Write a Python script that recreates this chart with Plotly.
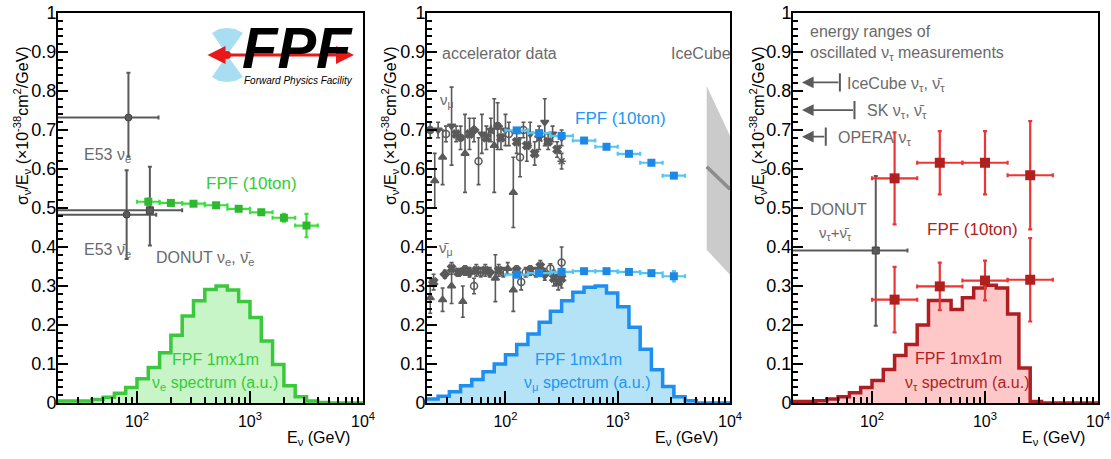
import math
import plotly.graph_objects as go

W, H = 1111, 459
FONT = "Liberation Sans, Arial, sans-serif"

# ---------------- data ----------------
# histogram bins: lower edges (log10 GeV), last entry is the upper edge of the last bin
bin_edges_log = [1.3, 1.4, 1.5, 1.6, 1.7, 1.8, 1.9, 2.0, 2.1, 2.2, 2.3, 2.4, 2.5, 2.6,
                 2.7, 2.8, 2.9, 3.0, 3.1, 3.2, 3.3, 3.4, 3.5, 3.6, 3.7, 3.8, 3.9, 4.0]
nue_spectrum = [0.005, 0.005, 0.005, 0.009, 0.015, 0.025, 0.040, 0.062, 0.091, 0.129, 0.174,
                0.223, 0.262, 0.291, 0.300, 0.290, 0.260, 0.219, 0.159, 0.099, 0.044, 0.016,
                0.005, 0.001, 0.0, 0.0, 0.0]
numu_spectrum = [0.010, 0.017, 0.029, 0.044, 0.060, 0.080, 0.100, 0.124, 0.150, 0.177, 0.207,
                 0.235, 0.262, 0.284, 0.297, 0.300, 0.282, 0.247, 0.194, 0.138, 0.085, 0.042,
                 0.016, 0.006, 0.0, 0.0, 0.0]
nutau_spectrum = [0.004, 0.004, 0.006, 0.010, 0.016, 0.026, 0.040, 0.058, 0.086, 0.122, 0.150,
                  0.200, 0.263, 0.263, 0.240, 0.270, 0.295, 0.302, 0.295, 0.228, 0.090, 0.004,
                  0.0, 0.0, 0.0, 0.0, 0.0]

# FPF (10ton) projections, 0.2-decade bins
fpf_bin_lo = [2.0, 2.2, 2.4, 2.6, 2.8, 3.0, 3.2, 3.4]
fpf_bin_hi = [2.2, 2.4, 2.6, 2.8, 3.0, 3.2, 3.4, 3.6]
fpf_center = [2.1, 2.3, 2.5, 2.7, 2.9, 3.1, 3.3, 3.5]
fpf_nue = [0.516, 0.513, 0.511, 0.507, 0.498, 0.489, 0.475, 0.455]
fpf_nue_err = [0.008, 0.005, 0.005, 0.005, 0.005, 0.006, 0.010, 0.030]
fpf_numu = [0.699, 0.692, 0.685, 0.673, 0.657, 0.639, 0.616, 0.583]
fpf_numu_err = [0.006, 0.005, 0.005, 0.005, 0.005, 0.005, 0.005, 0.006]
fpf_numubar = [0.329, 0.333, 0.336, 0.338, 0.338, 0.336, 0.333, 0.325]
fpf_numubar_err = [0.005, 0.004, 0.004, 0.004, 0.004, 0.004, 0.005, 0.013]

# FPF nu_tau, 0.4-decade bins
tau_bin_lo = [2.0, 2.4, 2.8, 3.2]
tau_bin_hi = [2.4, 2.8, 3.2, 3.6]
tau_center = [2.2, 2.6, 3.0, 3.4]
fpf_nutau = [0.576, 0.616, 0.616, 0.584]
fpf_nutau_err = [0.118, 0.081, 0.081, 0.139]
fpf_nutaubar = [0.265, 0.299, 0.314, 0.316]
fpf_nutaubar_err = [0.084, 0.061, 0.051, 0.107]

# existing nu_e measurements (E53, DONUT)
nue_meas_E = [84, 81, 130]
nue_meas_lo = [10, 10, 10]
nue_meas_hi = [155, 148, 251]
nue_meas_val = [0.732, 0.483, 0.494]
nue_meas_up = [0.115, 0.114, 0.112]
nue_meas_dn = [0.100, 0.114, 0.090]
nue_meas_sym = ["circle", "circle", "square"]

# DONUT nu_tau
donut_tau_E = [108]
donut_tau_lo = [10]
donut_tau_hi = [206]
donut_tau_val = [0.391]
donut_tau_up = [0.191]
donut_tau_dn = [0.193]

# oscillated nu_tau energy ranges
osc_names = ["IceCube", "SK", "OPERA"]
osc_Emax = [52, 70, 39]
osc_Etip = [24, 24, 24]
osc_y = [0.822, 0.751, 0.683]

# IceCube numu band
icecube_E = [6200, 10000]
icecube_hi = [0.813, 0.685]
icecube_lo = [0.393, 0.329]
icecube_mid = [0.606, 0.548]

# accelerator data (log10 E, value, error, marker)
acc_numu = [
    (1.33, 0.700, 0.020, "circle"), (1.37, 0.570, 0.070, "triangle-up"),
    (1.40, 0.700, 0.020, "triangle-down"), (1.44, 0.630, 0.070, "triangle-up"),
    (1.47, 0.690, 0.020, "circle-open"), (1.52, 0.710, 0.100, "triangle-down"),
    (1.56, 0.690, 0.020, "x"), (1.60, 0.680, 0.030, "circle"),
    (1.64, 0.640, 0.100, "triangle-up"), (1.68, 0.690, 0.040, "x"),
    (1.72, 0.700, 0.030, "diamond"), (1.76, 0.620, 0.060, "circle-open"),
    (1.79, 0.690, 0.050, "triangle-down"), (1.83, 0.680, 0.030, "x"),
    (1.87, 0.700, 0.030, "star"), (1.90, 0.660, 0.120, "triangle-up"),
    (1.93, 0.710, 0.060, "circle"), (1.96, 0.680, 0.030, "x"),
    (2.00, 0.700, 0.040, "triangle-down"), (2.03, 0.690, 0.030, "circle-open"),
    (2.07, 0.540, 0.090, "triangle-up"), (2.10, 0.670, 0.030, "x"),
    (2.13, 0.630, 0.050, "circle-open"), (2.16, 0.700, 0.020, "circle-open"),
    (2.19, 0.660, 0.040, "x"), (2.22, 0.690, 0.030, "triangle-down"),
    (2.26, 0.640, 0.030, "x"), (2.30, 0.680, 0.030, "star"),
    (2.35, 0.720, 0.060, "triangle-down"), (2.38, 0.670, 0.020, "x"),
    (2.42, 0.690, 0.020, "triangle-down"), (2.46, 0.650, 0.020, "x"),
    (2.50, 0.620, 0.020, "asterisk-open"), (2.50, 0.680, 0.020, "triangle-down"),
]
acc_numubar = [
    (1.33, 0.270, 0.040, "triangle-up"), (1.36, 0.310, 0.020, "x"),
    (1.44, 0.265, 0.030, "triangle-up"), (1.46, 0.330, 0.010, "diamond"),
    (1.52, 0.345, 0.015, "x"), (1.52, 0.300, 0.045, "triangle-up"),
    (1.58, 0.335, 0.010, "x"), (1.62, 0.260, 0.040, "triangle-up"),
    (1.64, 0.340, 0.012, "x"), (1.68, 0.335, 0.012, "diamond"),
    (1.72, 0.300, 0.020, "circle-open"), (1.74, 0.340, 0.015, "x"),
    (1.78, 0.335, 0.012, "circle-open"), (1.82, 0.340, 0.015, "x"),
    (1.86, 0.335, 0.012, "diamond"), (1.91, 0.320, 0.060, "triangle-up"),
    (1.94, 0.340, 0.015, "x"), (1.98, 0.335, 0.012, "circle-open"),
    (2.02, 0.345, 0.015, "triangle-up"), (2.07, 0.290, 0.055, "triangle-up"),
    (2.10, 0.340, 0.012, "x"), (2.14, 0.310, 0.020, "circle-open"),
    (2.18, 0.335, 0.012, "circle-open"), (2.22, 0.340, 0.012, "x"),
    (2.27, 0.335, 0.012, "circle-open"), (2.31, 0.350, 0.015, "x"),
    (2.35, 0.330, 0.015, "diamond"), (2.40, 0.345, 0.012, "circle-open"),
    (2.43, 0.320, 0.020, "x"), (2.47, 0.310, 0.020, "x"),
    (2.50, 0.360, 0.040, "circle-open"), (2.50, 0.320, 0.025, "x"),
]

x_tick_vals = [100, 1000, 10000]
x_tick_text = ["10<sup>2</sup>", "10<sup>3</sup>", "10<sup>4</sup>"]

# ---------------- colours ----------------
GRAY_TXT = "#6a6a6a"
GRAY_PT = "#5a5a5a"
GREEN_L, GREEN_F, GREEN_E, GREEN_M = "#3cc83c", "#c8f5c8", "#3ae03a", "#2fb82f"
BLUE_L, BLUE_F, BLUE_E, BLUE_M = "#1e8ff0", "#b4e3f8", "#55c5f2", "#1e88e5"
RED_L, RED_F, RED_E, RED_M = "#b01e22", "#ffc8c8", "#ee3535", "#b0201f"

fig = go.Figure()


def P(x, y):
    return x / W, 1 - y / H


def hist(vals, xa, ya, lc, fc):
    xs = [10 ** e for e in bin_edges_log]
    ys = list(vals) + [vals[-1]]
    fig.add_trace(go.Scatter(x=xs, y=ys, mode="lines", line=dict(shape="hv", color=lc, width=3.5),
                             fill="tozeroy", fillcolor=fc, xaxis=xa, yaxis=ya, hoverinfo="skip"))


def fpf_points(lo, hi, c, vals, errs, xa, ya, ec, mc, msize=8):
    xs = [10 ** v for v in c]
    ep = [10 ** h - 10 ** v for h, v in zip(hi, c)]
    em = [10 ** v - 10 ** l for l, v in zip(lo, c)]
    fig.add_trace(go.Scatter(
        x=xs, y=vals, mode="markers", xaxis=xa, yaxis=ya,
        marker=dict(symbol="square", size=msize, color=mc),
        error_x=dict(type="data", symmetric=False, array=ep, arrayminus=em, color=ec, thickness=2.2, width=2),
        error_y=dict(type="data", array=errs, color=ec, thickness=2.2, width=2)))


def gray_points(E, lo, hi, vals, up, dn, syms, xa, ya):
    fig.add_trace(go.Scatter(
        x=E, y=vals, mode="markers", xaxis=xa, yaxis=ya,
        marker=dict(symbol=syms, size=7, color=GRAY_PT, line=dict(color="#444", width=1)),
        error_x=dict(type="data", symmetric=False, array=[h - e for h, e in zip(hi, E)],
                     arrayminus=[e - l for l, e in zip(lo, E)], color=GRAY_PT, thickness=2, width=2),
        error_y=dict(type="data", symmetric=False, array=up, arrayminus=dn, color=GRAY_PT, thickness=2, width=2)))


# ---------- panel 1 : nu_e ----------
hist(nue_spectrum, "x", "y", GREEN_L, GREEN_F)
gray_points(nue_meas_E, nue_meas_lo, nue_meas_hi, nue_meas_val, nue_meas_up, nue_meas_dn, nue_meas_sym, "x", "y")
fpf_points(fpf_bin_lo, fpf_bin_hi, fpf_center, fpf_nue, fpf_nue_err, "x", "y", GREEN_E, GREEN_M)

# ---------- panel 2 : nu_mu ----------
hist(numu_spectrum, "x2", "y2", BLUE_L, BLUE_F)
fig.add_trace(go.Scatter(x=icecube_E + icecube_E[::-1], y=icecube_hi + icecube_lo[::-1],
                         fill="toself", fillcolor="#cbcbcb", line=dict(width=0), mode="lines",
                         xaxis="x2", yaxis="y2"))
fig.add_trace(go.Scatter(x=icecube_E, y=icecube_mid, mode="lines", line=dict(color="#8c8c8c", width=3.5),
                         xaxis="x2", yaxis="y2"))
for dataset in (acc_numu, acc_numubar):
    fig.add_trace(go.Scatter(
        x=[10 ** d[0] for d in dataset], y=[d[1] for d in dataset], mode="markers",
        xaxis="x2", yaxis="y2",
        marker=dict(symbol=[d[3] for d in dataset], size=7, color=GRAY_PT,
                    line=dict(color=GRAY_PT, width=1.5)),
        error_y=dict(type="data", array=[d[2] for d in dataset], color=GRAY_PT, thickness=1.6, width=2)))
fpf_points(fpf_bin_lo, fpf_bin_hi, fpf_center, fpf_numu, fpf_numu_err, "x2", "y2", BLUE_E, BLUE_M)
fpf_points(fpf_bin_lo, fpf_bin_hi, fpf_center, fpf_numubar, fpf_numubar_err, "x2", "y2", BLUE_E, BLUE_M)

# ---------- panel 3 : nu_tau ----------
hist(nutau_spectrum, "x3", "y3", RED_L, RED_F)
gray_points(donut_tau_E, donut_tau_lo, donut_tau_hi, donut_tau_val, donut_tau_up, donut_tau_dn,
            ["square"], "x3", "y3")
fpf_points(tau_bin_lo, tau_bin_hi, tau_center, fpf_nutau, fpf_nutau_err, "x3", "y3", RED_E, RED_M, 10)
fpf_points(tau_bin_lo, tau_bin_hi, tau_center, fpf_nutaubar, fpf_nutaubar_err, "x3", "y3", RED_E, RED_M, 10)
fig.add_trace(go.Scatter(x=osc_Emax, y=osc_y, mode="markers", xaxis="x3", yaxis="y3",
                         marker=dict(symbol="line-ns", size=13, line=dict(color=GRAY_PT, width=2))))

annotations = []
for e_tip, e_max, yv in zip(osc_Etip, osc_Emax, osc_y):
    annotations.append(dict(x=math.log10(e_tip), y=yv, ax=math.log10(e_max), ay=yv,
                            xref="x3", yref="y3", axref="x3", ayref="y3", text="",
                            showarrow=True, arrowhead=2, arrowsize=1.3, arrowwidth=1.8,
                            arrowcolor=GRAY_PT))

# ---------------- axes ----------------
minor_x = [v * 10 ** k for k in (1, 2, 3) for v in range(2, 10) if 20 <= v * 10 ** k <= 9000]
x_domains = [(58, 363), (427, 730), (793, 1098)]
y_dom = [1 - 403 / H, 1 - 13 / H]

layout = dict(width=W, height=H, margin=dict(l=0, r=0, t=0, b=0, autoexpand=False),
              paper_bgcolor="white", plot_bgcolor="white", showlegend=False,
              font=dict(family=FONT, color="black"))
for i, (a, b) in enumerate(x_domains):
    sfx = "" if i == 0 else str(i + 1)
    layout["xaxis" + sfx] = dict(
        type="log", range=[math.log10(20), 4], domain=[a / W, b / W], anchor="y" + sfx,
        automargin=False,
        showline=True, linecolor="black", linewidth=2, mirror=True, showgrid=False, zeroline=False,
        ticks="inside", ticklen=12, tickwidth=2, tickcolor="black", ticklabelstandoff=3,
        tickvals=x_tick_vals, ticktext=x_tick_text, tickfont=dict(size=16, family=FONT),
        minor=dict(tickvals=minor_x, ticks="inside", ticklen=6, tickwidth=2, tickcolor="black"))
    layout["yaxis" + sfx] = dict(
        range=[0, 1], domain=y_dom, anchor="x" + sfx, automargin=False,
        showline=True, linecolor="black", linewidth=2,
        mirror=True, showgrid=False, zeroline=False, ticks="inside", ticklen=10, tickwidth=2,
        tickcolor="black", dtick=0.1, tick0=0, tickfont=dict(size=18, family=FONT),
        ticklabelstandoff=-4,
        minor=dict(dtick=0.02, ticks="inside", ticklen=5, tickwidth=2, tickcolor="black"))


def txt(s, x, y, color=GRAY_TXT, size=16, xanchor="left", **kw):
    px, py = P(x, y)
    d = dict(text=s, x=px, y=py, xref="paper", yref="paper", showarrow=False, xanchor=xanchor,
             yanchor="middle", font=dict(size=size, color=color, family=FONT))
    d.update(kw)
    annotations.append(d)


YT = "σ<sub>ν</sub>/E<sub>ν</sub> (×10<sup>-38</sup>cm<sup>2</sup>/GeV)"
for xt in (22, 390, 758):
    txt(YT, xt, 126, color="black", size=16, xanchor="center", textangle=-90)
for xr in (352, 720, 1087):
    txt("E<sub>ν</sub> (GeV)", xr, 438, color="black", size=16, xanchor="right")

NB = "ν\u0304"
# panel 1 texts
txt("E53 ν<sub>e</sub>", 82, 155)
txt("E53 " + NB + "<sub>e</sub>", 82, 250)
txt("DONUT ν<sub>e</sub>, " + NB + "<sub>e</sub>", 154, 258)
txt("FPF (10ton)", 204, 183, color="#33cc33", size=17)
txt("FPF 1mx1m", 215, 359, color="#33cc33", xanchor="center")
txt("ν<sub>e</sub> spectrum (a.u.)", 215, 383, color="#33cc33", xanchor="center")
# panel 2 texts
txt("accelerator data", 440, 53)
txt("IceCube", 669, 53)
txt("ν<sub>μ</sub>", 438, 100, size=15)
txt(NB + "<sub>μ</sub>", 437, 248, size=15)
txt("FPF (10ton)", 573, 118, color="#2196f3", size=17)
txt("FPF 1mx1m", 578, 359, color="#2196f3", xanchor="center")
txt("ν<sub>μ</sub> spectrum (a.u.)", 587, 383, color="#2196f3", xanchor="center")
# panel 3 texts
txt("energy ranges of", 808, 31)
txt("oscillated ν<sub>τ</sub> measurements", 808, 53)
txt("IceCube ν<sub>τ</sub>, " + NB + "<sub>τ</sub>", 845, 84)
txt("SK ν<sub>τ</sub>, " + NB + "<sub>τ</sub>", 865, 111)
txt("OPERA\u00a0ν<sub>τ</sub>", 836, 138)
txt("DONUT", 808, 210)
txt("ν<sub>τ</sub>+" + NB + "<sub>τ</sub>", 835, 233, size=15, xanchor="center")
txt("FPF (10ton)", 925, 230, color=RED_L, size=17)
txt("FPF 1mx1m", 958, 358, color=RED_L, xanchor="center")
txt("ν<sub>τ</sub> spectrum (a.u.)", 967, 383, color=RED_L, xanchor="center")

# FPF logo
shapes = []


def ppath(points):
    s = ""
    for i, (x, y) in enumerate(points):
        px, py = P(x, y)
        s += ("M" if i == 0 else "L") + f"{px:.5f},{py:.5f} "
    return s + "Z"


shapes.append(dict(type="path", xref="paper", yref="paper", line=dict(width=0), fillcolor="#a8def2",
                   path=ppath([(227, 55), (212, 33), (219, 29), (227, 28), (235, 29), (243, 33)])))
shapes.append(dict(type="path", xref="paper", yref="paper", line=dict(width=0), fillcolor="#a8def2",
                   path=ppath([(227, 55), (212, 77), (219, 81), (227, 82), (235, 81), (243, 77)])))
x1, y1 = P(354, 55)
annotations.append(dict(x=x1, y=y1, ax=-148, ay=0, xref="paper", yref="paper", axref="pixel", ayref="pixel",
                        text="", showarrow=True, arrowhead=2, arrowside="end+start", arrowsize=1.2,
                        arrowwidth=3, arrowcolor="#e81818"))
cx0, cy0 = P(223, 51)
cx1, cy1 = P(231, 59)
shapes.append(dict(type="circle", xref="paper", yref="paper", x0=cx0, y0=cy1, x1=cx1, y1=cy0,
                   fillcolor="#e81818", line=dict(width=0)))
txt("<b><i>FPF</i></b>", 297, 48, color="black", size=58, xanchor="center",
    font=dict(size=58, color="black", family="Liberation Sans, Arial"))
txt("<i>Forward Physics Facility</i>", 298, 80, color="black", size=10, xanchor="center",
    font=dict(size=10, color="black", family="Liberation Sans, Arial"))

layout["annotations"] = annotations
layout["shapes"] = shapes
fig.update_layout(**layout)
fig.write_html("out.html")
